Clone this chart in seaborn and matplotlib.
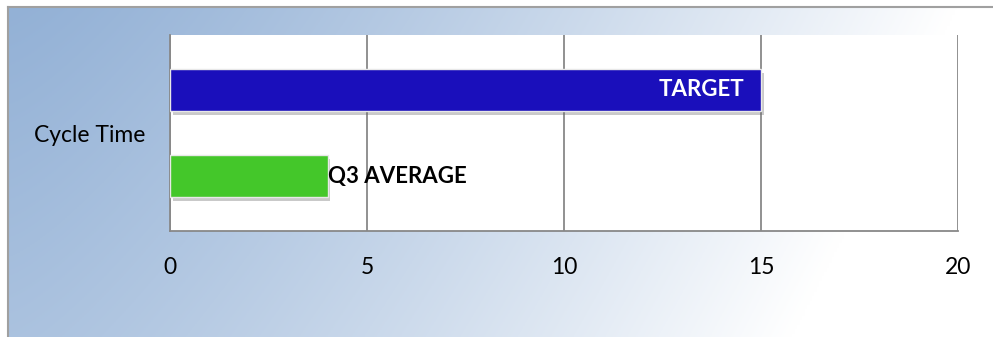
import numpy as np
import pandas as pd
import matplotlib.pyplot as plt
import matplotlib.patheffects as pe
import seaborn as sns

# Data
metrics = ["Cycle Time", "Cycle Time"]
series = ["TARGET", "Q3 AVERAGE"]
values = [15, 4]
bar_colors = ["#1a0fbb", "#44c72a"]
x_ticks = [0, 5, 10, 15, 20]

df = pd.DataFrame({"metric": metrics, "series": series, "value": values})

sns.set_style("white")
plt.rcParams["font.family"] = ["Lato", "DejaVu Sans"]

fig = plt.figure(figsize=(9.93, 3.37), dpi=100)
fig.patch.set_facecolor("white")

# Gradient background panel with gray frame
W, H = 993, 337
bg = fig.add_axes([8 / W, 0, 1 - 8 / W, 1 - 7 / H], zorder=0)
xx, yy = np.meshgrid(np.linspace(0, 1, 400), np.linspace(0, 1, 150))
t = np.clip(1.05 * xx ** 1.3 + 0.22 * yy, 0, 1)
dark = np.array([147, 177, 214]) / 255
white = np.array([1.0, 1.0, 1.0])
img = dark[None, None, :] * (1 - t[..., None]) + white[None, None, :] * t[..., None]
bg.imshow(img, aspect="auto", extent=[0, 1, 1, 0])
bg.set_xticks([])
bg.set_yticks([])
for side in ["right", "bottom"]:
    bg.spines[side].set_visible(False)
for side in ["left", "top"]:
    bg.spines[side].set_color("#a0a0a0")
    bg.spines[side].set_linewidth(1.5)

# Main chart
ax = fig.add_axes([170 / W, 1 - 231 / H, (958 - 170) / W, (231 - 35) / H], zorder=1)
ax.set_facecolor("white")
sns.barplot(data=df, y="metric", x="value", hue="series", hue_order=series,
            palette=bar_colors, saturation=1, orient="h", width=0.88, gap=0.51,
            legend=False, ax=ax, zorder=3)

shadow = [pe.SimplePatchShadow(offset=(2, -3), shadow_rgbFace="#666666", alpha=0.35), pe.Normal()]
for bar in ax.patches:
    bar.set_edgecolor("#e8e8e8")
    bar.set_linewidth(1)
    bar.set_path_effects(shadow)

# Bar labels
cont_target, cont_avg = ax.containers
lbl = ax.bar_label(cont_target, labels=[series[0]], label_type="edge", padding=-12,
                   color="white", fontweight="bold", fontsize=16)
for txt in lbl:
    txt.set_ha("right")
ax.bar_label(cont_avg, labels=[series[1]], label_type="edge", padding=0,
             color="black", fontweight="bold", fontsize=16)

ax.set_xlim(0, 20)
ax.set_xticks(x_ticks)
ax.set_xticklabels([str(v) for v in x_ticks])
ax.grid(axis="x", color="#888888", linewidth=1.3, zorder=0)
ax.set_axisbelow(True)
ax.set_xlabel("")
ax.set_ylabel("")
for side in ["top", "right"]:
    ax.spines[side].set_visible(False)
for side in ["left", "bottom"]:
    ax.spines[side].set_color("#888888")
    ax.spines[side].set_linewidth(1.3)
ax.tick_params(axis="x", length=0, pad=19, labelsize=16.5, labelcolor="black")
ax.tick_params(axis="y", length=0, pad=18, labelsize=16.5, labelcolor="black")

fig.savefig("out.png", dpi=100)
